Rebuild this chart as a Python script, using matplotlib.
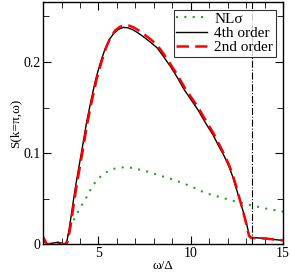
import matplotlib
matplotlib.use("Agg")
import matplotlib.pyplot as plt
from matplotlib.ticker import MultipleLocator

plt.rcParams["font.family"] = ["Liberation Serif", "DejaVu Serif"]

# 4th order (black solid)
w4 = [2.0, 2.1, 2.2, 2.5, 2.8, 3.0, 3.2, 3.3, 3.4, 3.5, 3.6, 3.75, 3.9, 4.1,
      4.35, 4.6, 4.85, 5.1, 5.35, 5.6, 5.85, 6.1, 6.35, 6.6, 6.85, 7.1, 7.45,
      7.8, 8.18, 8.54, 8.9, 9.27, 9.63, 10.0, 10.4, 10.8, 11.2, 11.53, 11.8,
      12.07, 12.25, 12.43, 12.7, 12.98, 13.16, 13.25, 13.4, 14.07, 14.5, 15.0]
s4 = [0.004, 0.002, 0.0, 0.001, 0.002, 0.001, 0.0, 0.004, 0.015, 0.028, 0.042,
      0.062, 0.08, 0.103, 0.133, 0.158, 0.181, 0.199, 0.214, 0.225, 0.232,
      0.236, 0.238, 0.2375, 0.2355, 0.2325, 0.2275, 0.222, 0.2155, 0.2055,
      0.195, 0.183, 0.17, 0.159, 0.147, 0.133, 0.12, 0.107, 0.097, 0.085,
      0.075, 0.063, 0.045, 0.026, 0.010, 0.0075, 0.007, 0.0063, 0.005, 0.004]

# 2nd order (red dashed)
w2 = [2.0, 2.1, 2.2, 2.5, 2.8, 3.0, 3.25, 3.35, 3.45, 3.55, 3.65, 3.8, 3.95,
      4.15, 4.4, 4.65, 4.9, 5.15, 5.4, 5.65, 5.9, 6.15, 6.4, 6.65, 6.9, 7.15,
      7.5, 7.85, 8.2, 8.56, 8.92, 9.3, 9.66, 10.03, 10.43, 10.83, 11.22, 11.55,
      11.82, 12.09, 12.27, 12.45, 12.71, 12.98, 13.15, 13.25, 13.4, 14.07,
      14.5, 15.0]
s2 = [0.008, 0.004, 0.0, 0.0, 0.0, 0.0, 0.0, 0.004, 0.015, 0.028, 0.042, 0.062,
      0.08, 0.103, 0.133, 0.158, 0.181, 0.199, 0.215, 0.227, 0.2345, 0.2385,
      0.2405, 0.24, 0.238, 0.235, 0.23, 0.2245, 0.218, 0.208, 0.197, 0.185,
      0.172, 0.161, 0.149, 0.135, 0.122, 0.109, 0.098, 0.086, 0.076, 0.064,
      0.045, 0.024, 0.009, 0.007, 0.0065, 0.006, 0.005, 0.004]

# NL sigma (green dotted)
wn = [3.3, 3.38, 3.47, 3.8, 4.1, 4.37, 4.6, 4.83, 5.2, 5.64, 6.0, 6.46, 6.9,
      7.27, 7.64, 8.2, 9.08, 10.0, 10.8, 11.6, 12.43, 13.3, 14.07, 15.0]
sn = [0.0, 0.012, 0.019, 0.032, 0.043, 0.052, 0.061, 0.068, 0.076, 0.0816,
      0.0835, 0.0845, 0.0835, 0.0815, 0.0797, 0.076, 0.0706, 0.0635, 0.056,
      0.0515, 0.0467, 0.0425, 0.039, 0.0356]

w_edge = 13.34

fig = plt.figure(figsize=(2.91, 2.73), dpi=100)
ax = fig.add_axes([0.148, 0.106, 0.825, 0.887])

ax.plot(wn, sn, color="#22aa22", linestyle=(0, (1, 3)), lw=1.5, label="NL\u03c3")
ax.plot(w4, s4, color="black", lw=1.0, label="4th order")
ax.plot(w2, s2, color="red", lw=1.8, linestyle=(0, (5, 2.5)), label="2nd order")
ax.axvline(w_edge, color="black", lw=0.8, linestyle="-.")

ax.set_xlim(2, 15)
ax.set_ylim(0, 0.266)
ax.xaxis.set_major_locator(MultipleLocator(5))
ax.xaxis.set_minor_locator(MultipleLocator(1))
ax.yaxis.set_minor_locator(MultipleLocator(0.05))
ax.set_yticks([0, 0.1, 0.2])
ax.set_yticklabels(["0", "0.1", "0.2"])
ax.tick_params(which="both", direction="in", top=True, right=True, labelsize=10)
ax.tick_params(which="major", length=6, pad=2)
ax.tick_params(which="minor", length=4)
for sp in ax.spines.values():
    sp.set_linewidth(1.0)

ax.set_xlabel("\u03c9/\u0394", fontsize=9.5, labelpad=0)
ax.set_ylabel("S(k=\u03c0,\u03c9)", fontsize=9.5, labelpad=1)

leg = ax.legend(loc="upper right", fontsize=11, frameon=True, fancybox=False,
                edgecolor="black", handlelength=2.0, borderpad=0.15,
                labelspacing=0.05, handletextpad=0.5, borderaxespad=0.5)
leg.get_frame().set_linewidth(0.8)

fig.savefig("out.png", dpi=100)
